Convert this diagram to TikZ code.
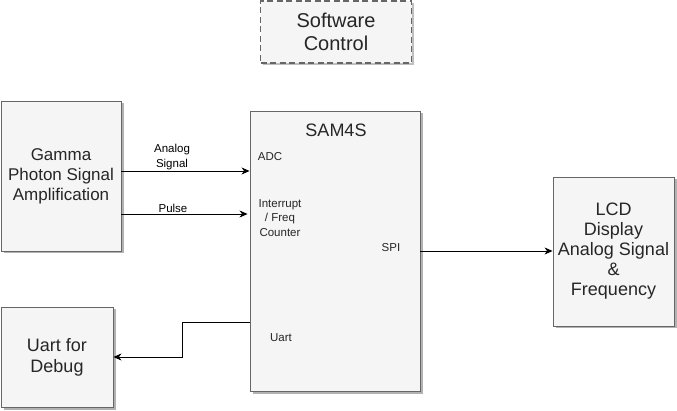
\documentclass[tikz,border=0pt]{standalone}
\usepackage{fontspec}
\setmainfont{Liberation Sans}
\usetikzlibrary{arrows.meta,shadows,calc}
\definecolor{boxfill}{HTML}{F5F5F5}
\definecolor{boxline}{HTML}{666666}
\definecolor{boxtext}{HTML}{262626}
\tikzset{
  gbox/.style={draw=boxline, fill=boxfill, line width=0.9pt, text=boxtext, align=center,
    inner sep=0pt, drop shadow={shadow xshift=2.5pt, shadow yshift=-2.5pt, fill=black, opacity=0.3}},
  dbox/.style={draw=boxline, fill=boxfill, line width=1.6pt, dash pattern=on 6pt off 3.5pt, text=boxtext, align=center,
    inner sep=0pt, drop shadow={shadow xshift=2pt, shadow yshift=-2pt, fill=black, opacity=0.25}},
  big/.style={font=\fontsize{18}{21}\selectfont},
  mid/.style={font=\fontsize{17}{20}\selectfont},
  small/.style={font=\fontsize{11.5}{14.5}\selectfont, align=center, inner sep=0pt, text=black},
  arr/.style={draw=black, line width=0.8pt, -{Stealth[length=8pt,width=7pt,inset=2.5pt]}},
}
\begin{document}
\begin{tikzpicture}[x=1pt,y=-1pt]
\useasboundingbox (0,0) rectangle (677,411);
% boxes
\node[dbox, minimum width=151pt, minimum height=62pt, font=\fontsize{20}{23.5}\selectfont] (sw) at (336,32) {Software\\Control};
\node[gbox, mid, minimum width=120pt, minimum height=150pt] (gamma) at (61,176) {Gamma\\Photon Signal\\Amplification};
\node[gbox, minimum width=170pt, minimum height=280pt] (sam) at (335,251) {};
\node[gbox, font=\fontsize{18}{20}\selectfont, minimum width=121pt, minimum height=149pt] (lcd) at (613.5,251.5) {LCD\\Display\\Analog Signal\\\&\\Frequency};
\node[gbox, big, minimum width=112pt, minimum height=100pt] (uart) at (57,357) {Uart for\\Debug};
% texts inside SAM4S
\node[big, text=boxtext, inner sep=0pt] (samt) at (336,130) {SAM4S};
\node[small, text=boxtext] (adc) at (270,157) {ADC};
\node[small, text=boxtext] (irq) at (280,218) {Interrupt\\/ Freq\\Counter};
\node[small, text=boxtext] (spi) at (391,248) {SPI};
\node[small, text=boxtext] (uartt) at (281,338) {Uart};
% connector labels
\node[small] (lanalog) at (172,157) {Analog\\Signal};
\node[small] (lpulse) at (173,208) {Pulse};
% connectors
\draw[arr] (gamma.east |- 0,171) -- (sam.west |- 0,171);
\draw[arr, shorten >=2pt] (gamma.east |- 0,214) -- (sam.west |- 0,214);
\draw[arr] (sam.east) -- (lcd.west |- sam.east);
\coordinate (bend) at ($(uart.east)+(69,0)$);
\draw[arr] (sam.west |- 0,322) -| (bend) -- (uart.east);
\end{tikzpicture}
\end{document}
